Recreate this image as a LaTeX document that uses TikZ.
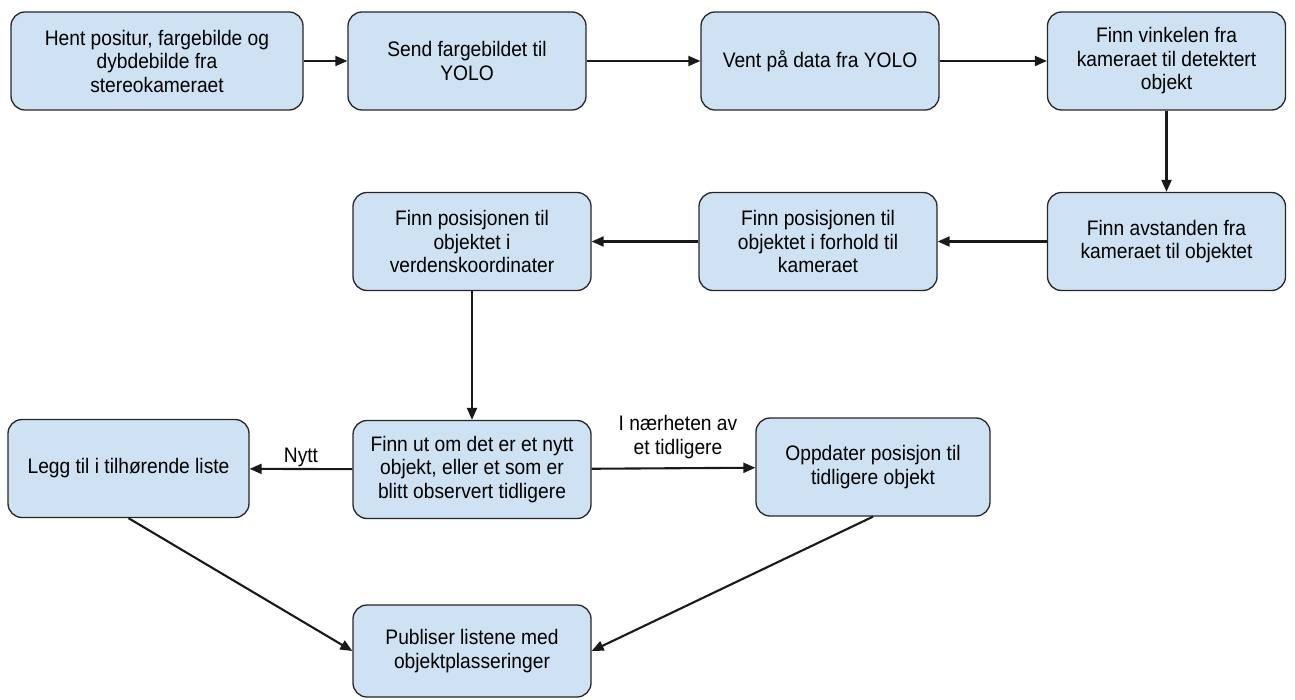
\documentclass[tikz,border=0pt]{standalone}
\usepackage{fontspec}
\setmainfont{Liberation Sans}[FakeStretch=0.915]
\usetikzlibrary{arrows.meta}
\definecolor{boxfill}{HTML}{CFE2F3}
\definecolor{edge}{HTML}{262626}

\begin{document}
\begin{tikzpicture}[x=1pt,y=-1pt,
  stepbox/.style={draw=edge, line width=1.3pt, fill=boxfill, rounded corners=14pt,
    minimum width=238pt, minimum height=98pt, align=center, inner sep=0pt,
    font=\fontsize{21}{23.5}\selectfont},
  flow/.style={draw=black!90, line width=2.1pt, -{Triangle[length=12pt,width=10pt]}},
  lbl/.style={font=\fontsize{21}{23.5}\selectfont, align=center, inner sep=0pt}]
\useasboundingbox (0,0) rectangle (1295,700);

% first row
\node[stepbox, minimum width=292pt] (n1) at (157,61) {Hent positur, fargebilde og\\dybdebilde fra\\stereokameraet};
\node[stepbox] (n2) at (467,61) {Send fargebildet til\\YOLO};
\node[stepbox] (n3) at (820,61) {Vent på data fra YOLO};
\node[stepbox] (n4) at (1166.5,61) {Finn vinkelen fra\\kameraet til detektert\\objekt};

% second row
\node[stepbox] (n5) at (1166.5,241.5) {Finn avstanden fra\\kameraet til objektet};
\node[stepbox] (n6) at (818,241.5) {Finn posisjonen til\\objektet i forhold til\\kameraet};
\node[stepbox] (n7) at (472,241.5) {Finn posisjonen til\\objektet i\\verdenskoordinater};

% third row
\node[stepbox, minimum width=241pt] (n8) at (128.5,468.5) {Legg til i tilhørende liste};
\node[stepbox] (n9) at (472,469.5) {Finn ut om det er et nytt\\objekt, eller et som er\\blitt observert tidligere};
\node[stepbox, minimum width=234pt] (n10) at (873,467) {Oppdater posisjon til\\tidligere objekt};

% result
\node[stepbox, minimum height=92pt] (n11) at (472,651) {Publiser listene med\\objektplasseringer};

% connectors
\draw[flow] (n1) -- (n2);
\draw[flow] (n2) -- (n3);
\draw[flow] (n3) -- (n4);
\draw[flow] (n4) -- (n5);
\draw[flow] (n5) -- (n6);
\draw[flow] (n6) -- (n7);
\draw[flow] (n7) -- (n9);
\draw[flow] (n9) -- node[lbl, above=1.5pt] (lnytt) {Nytt} (n8);
\draw[flow] (n9) -- (n10);
\draw[flow] (n8.south) -- (n11.west);
\draw[flow] (n10.south) -- (n11.east);

% branch label
\node[lbl] (lnear) at (678,437) {I nærheten av\\et tidligere};
\end{tikzpicture}
\end{document}
